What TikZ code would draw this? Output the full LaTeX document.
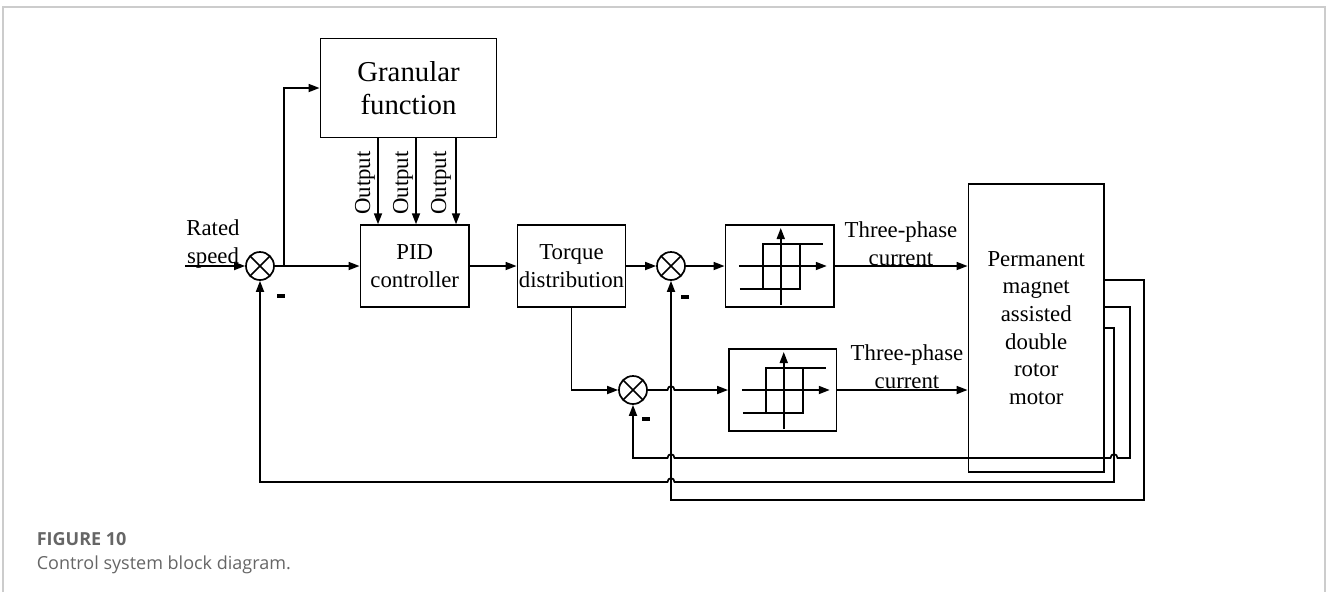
\documentclass[tikz,border=0pt]{standalone}
\usepackage{fontspec}
\setmainfont{Liberation Serif}
\newfontfamily\capfont{Open Sans}
\usetikzlibrary{arrows.meta}
\newcommand\hystsym{%
  \draw[arr] (1,39) -- (1,-38);
  \draw[arr] (-41,0) -- (47,0);
  \draw (-17,-22) rectangle (20,23);
  \draw (20,-22) -- (43,-22);
  \draw (-40,23) -- (-17,23);
}
\begin{document}
\begin{tikzpicture}[x=1pt,y=-1pt, line width=1.7pt,
  arr/.style={-{Triangle[length=11pt,width=8pt]}},
  blk/.style={draw, line width=1.9pt, inner sep=0pt, align=center,
    font=\fontsize{22.8}{27.6}\selectfont},
  lbl/.style={inner sep=0pt, align=center, font=\fontsize{22.8}{27.6}\selectfont},
  sumj/.style={draw, circle, minimum size=28pt, inner sep=0pt, line width=1.7pt,
    path picture={\draw[line width=1.5pt]
      (path picture bounding box.north west) -- (path picture bounding box.south east)
      (path picture bounding box.south west) -- (path picture bounding box.north east);}},
  minus/.style={fill, minimum width=8pt, minimum height=3.5pt, inner sep=0pt},
  frame/.style={draw=black!20, line width=1.8pt}
]
\useasboundingbox (0,0) rectangle (1327,592);
\draw[frame] (3,592) -- (3,7) -- (1325,7) -- (1325,592);

% blocks
\node[blk, minimum width=176pt, minimum height=99pt,
  font=\fontsize{28.8}{33}\selectfont] (gran) at (408.5,88) {Granular\\function};
\node[blk, minimum width=108.5pt, minimum height=81.5pt] (pid) at (414.75,266) {PID\\controller};
\node[blk, minimum width=108pt, minimum height=81.5pt] (tq) at (571.5,266) {Torque\\distribution};
\node[blk, minimum width=108.5pt, minimum height=82pt] (h1) at (779.75,266) {};
\node[blk, minimum width=107.5pt, minimum height=81.5pt] (h2) at (782.75,390) {};
\node[blk, minimum width=135.5pt, minimum height=288pt] (motor) at (1036.25,328)
  {Permanent\\magnet\\assisted\\double\\rotor\\motor};

\begin{scope}[shift={(h1.center)}] \hystsym \end{scope}
\begin{scope}[shift={(h2.center)}] \hystsym \end{scope}

% summing junctions
\node[sumj] (s1) at (260,266) {};
\node[sumj] (s2) at (671,266) {};
\node[sumj] (s3) at (633,390) {};
\node[minus] (m1) at (281,296) {};
\node[minus] (m2) at (685,297) {};
\node[minus] (m3) at (646,419) {};

% labels
\node[lbl, anchor=base] (rs) at (213,263) {Rated\\speed};
\node[lbl, anchor=base] (tp1) at (901,265) {Three-phase\\current};
\node[lbl, anchor=base] (tp2) at (907,388) {Three-phase\\current};
\node[lbl, rotate=90, anchor=base] (o1) at (370,183) {Output};
\node[lbl, rotate=90, anchor=base] (o2) at (408,183) {Output};
\node[lbl, rotate=90, anchor=base] (o3) at (446,183) {Output};

% coordinates
\coordinate (in) at (185,266);
\coordinate (br) at (284,266);
\coordinate (x1) at (378,0);
\coordinate (x2) at (416,0);
\coordinate (x3) at (456,0);
\coordinate (fa) at (1144,280);
\coordinate (fb) at (1130,307);
\coordinate (fc) at (1114,328);

% forward path
\draw[arr] (in) -- (s1.west);
\draw[arr] (s1.east) -- (pid.west);
\draw[arr] (br) |- (gran.west);
\draw[arr] (gran.south -| x1) -- (pid.north -| x1);
\draw[arr] (gran.south -| x2) -- (pid.north -| x2);
\draw[arr] (gran.south -| x3) -- (pid.north -| x3);
\draw[arr] (pid.east) -- (tq.west);
\draw[arr] (tq.east) -- (s2.west);
\draw[arr] (s2.east) -- (h1.west);
\draw[arr] (h1.east) -- (h1.east -| motor.west);
\draw[arr] (tq.south) |- (s3.west);
\draw[arr] (s3.east) -- (667.5,390) .. controls (667.5,385) and (674.5,385) .. (674.5,390) -- (h2.west);
\draw[arr] (h2.east) -- (h2.east -| motor.west);

% feedback paths
\draw[arr] (motor.east |- fa) -- (fa) -- (1144,500) -- (671,500) -- (s2.south);
\draw[arr] (motor.east |- fb) -- (fb) -- (1130,458) -- (1117.5,458)
  .. controls (1117.5,453) and (1110.5,453) .. (1110.5,458) -- (674.5,458)
  .. controls (674.5,453) and (667.5,453) .. (667.5,458) -- (s3.south |- 0,458) -- (s3.south);
\draw[arr] (motor.east |- fc) -- (fc) -- (1114,482) -- (674.5,482)
  .. controls (674.5,477) and (667.5,477) .. (667.5,482) -- (s1.south |- 0,482) -- (s1.south);

% caption
\node[anchor=base west, inner sep=0pt, text=black!60,
  font=\capfont\bfseries\fontsize{18}{22}\selectfont] (fig) at (36,545) {FIGURE 10};
\node[anchor=base west, inner sep=0pt, text=black!60,
  font=\capfont\fontsize{18}{22}\selectfont] (cap) at (36,569) {Control system block diagram.};
\end{tikzpicture}
\end{document}
